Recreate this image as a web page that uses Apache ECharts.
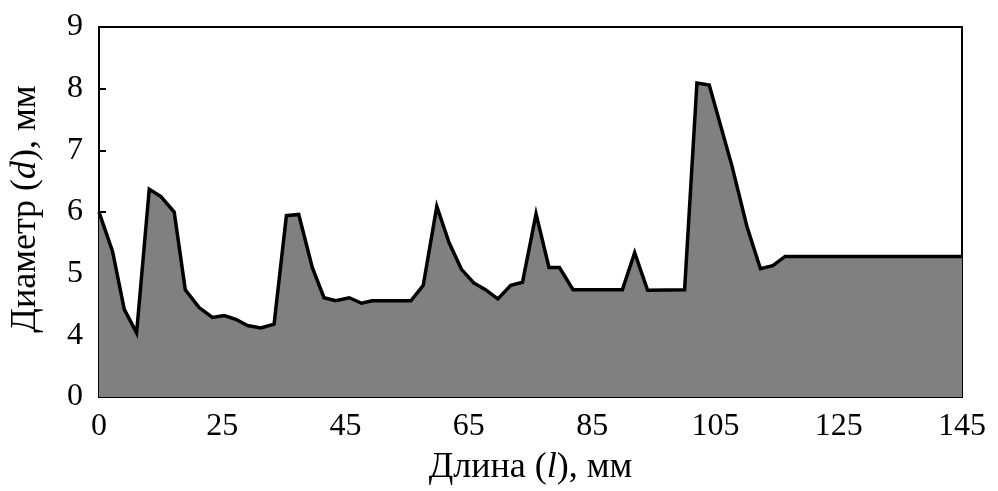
<!DOCTYPE html>
<html>
<head>
<meta charset="utf-8">
<script src="https://cdn.jsdelivr.net/npm/echarts@6/dist/echarts.min.js"></script>
<style>
  html, body { margin: 0; padding: 0; background: #fff; }
  #chart { width: 998px; height: 491px; }
</style>
</head>
<body>
<div id="chart"></div>
<script>
// Tick labels; both axes have an even first step that stands for a broken range
const xTickLabels = ['0', '25', '45', '65', '85', '105', '125', '145'];
const yTickLabels = ['0', '4', '5', '6', '7', '8', '9'];

// Position along the length axis (axis units: 5 ↔ "0", then 25…145 as labelled)
const lengthPos = [5, 7.2, 9.1, 11.1, 13.15, 15.05, 17.2, 19.0, 21.25, 23.4, 25.3, 27.2, 29.1, 31.25, 33.4,
  35.4, 37.4, 39.6, 41.5, 43.4, 45.6, 47.6, 49.3, 55.6, 57.6, 59.8, 61.8, 63.8, 65.8, 67.7, 69.7,
  71.8, 73.7, 75.9, 78, 79.7, 81.9, 89.9, 91.9, 94, 100, 102, 104, 107.7, 110.1, 112.3, 114.3, 116.3, 145];

// Diameter, mm
const diameter = [6.0, 5.36, 4.42, 4.04, 6.37, 6.25, 6.0, 4.74, 4.45, 4.29, 4.32, 4.26, 4.16, 4.12, 4.18,
  5.94, 5.96, 5.1, 4.61, 4.56, 4.61, 4.52, 4.56, 4.56, 4.81, 6.09, 5.5, 5.07, 4.85, 4.74, 4.59,
  4.81, 4.86, 5.97, 5.1, 5.1, 4.74, 4.74, 5.34, 4.73, 4.74, 8.09, 8.06, 6.74, 5.77, 5.08, 5.13, 5.28, 5.28];

const X_MIN = 5, X_MAX = 145, X_STEP = 20;
const Y_MIN = 3, Y_MAX = 9, Y_STEP = 1;

const font = 'Liberation Serif, Times New Roman, serif';
const titleStyle = { fontFamily: font, fontSize: 36, color: '#000' };
const chart = echarts.init(document.getElementById('chart'), null, { renderer: 'canvas' });

chart.setOption({
  animation: false,
  backgroundColor: '#ffffff',
  grid: { left: 98, right: 36, top: 27, bottom: 93, show: true, borderColor: '#000', borderWidth: 2, backgroundColor: 'transparent' },
  xAxis: {
    type: 'value',
    min: X_MIN, max: X_MAX, interval: X_STEP,
    name: '{t|Длина (}{i|l}{t|), мм}',
    nameLocation: 'middle',
    nameGap: 53,
    nameTextStyle: {
      ...titleStyle,
      rich: { t: { ...titleStyle }, i: { ...titleStyle, fontStyle: 'italic' } }
    },
    axisLine: { show: true, lineStyle: { color: '#000', width: 2 } },
    axisTick: { show: true, inside: true, length: 7, lineStyle: { color: '#000', width: 2 } },
    splitLine: { show: false },
    axisLabel: {
      fontFamily: font, fontSize: 32, color: '#000', margin: 14,
      formatter: v => xTickLabels[Math.round((v - X_MIN) / X_STEP)] ?? ''
    }
  },
  yAxis: {
    type: 'value',
    min: Y_MIN, max: Y_MAX, interval: Y_STEP,
    name: '{t|Диаметр (}{i|d}{t|), мм}',
    nameLocation: 'middle',
    nameGap: 55,
    nameRotate: 90,
    nameTextStyle: {
      ...titleStyle,
      padding: [0, 0, 0, 6],
      rich: { t: { ...titleStyle }, i: { ...titleStyle, fontStyle: 'italic' } }
    },
    axisLine: { show: true, lineStyle: { color: '#000', width: 2 } },
    axisTick: { show: true, inside: true, length: 7, lineStyle: { color: '#000', width: 2 } },
    splitLine: { show: false },
    axisLabel: {
      fontFamily: font, fontSize: 32, color: '#000', margin: 16,
      formatter: v => yTickLabels[Math.round((v - Y_MIN) / Y_STEP)] ?? ''
    }
  },
  series: [{
    type: 'line',
    data: lengthPos.map((x, i) => [x, diameter[i]]),
    showSymbol: false,
    symbol: 'none',
    lineStyle: { color: '#000', width: 3.5, join: 'miter' },
    areaStyle: { color: '#808080', opacity: 1, origin: 'start' },
    z: 1
  }]
});
</script>
</body>
</html>
